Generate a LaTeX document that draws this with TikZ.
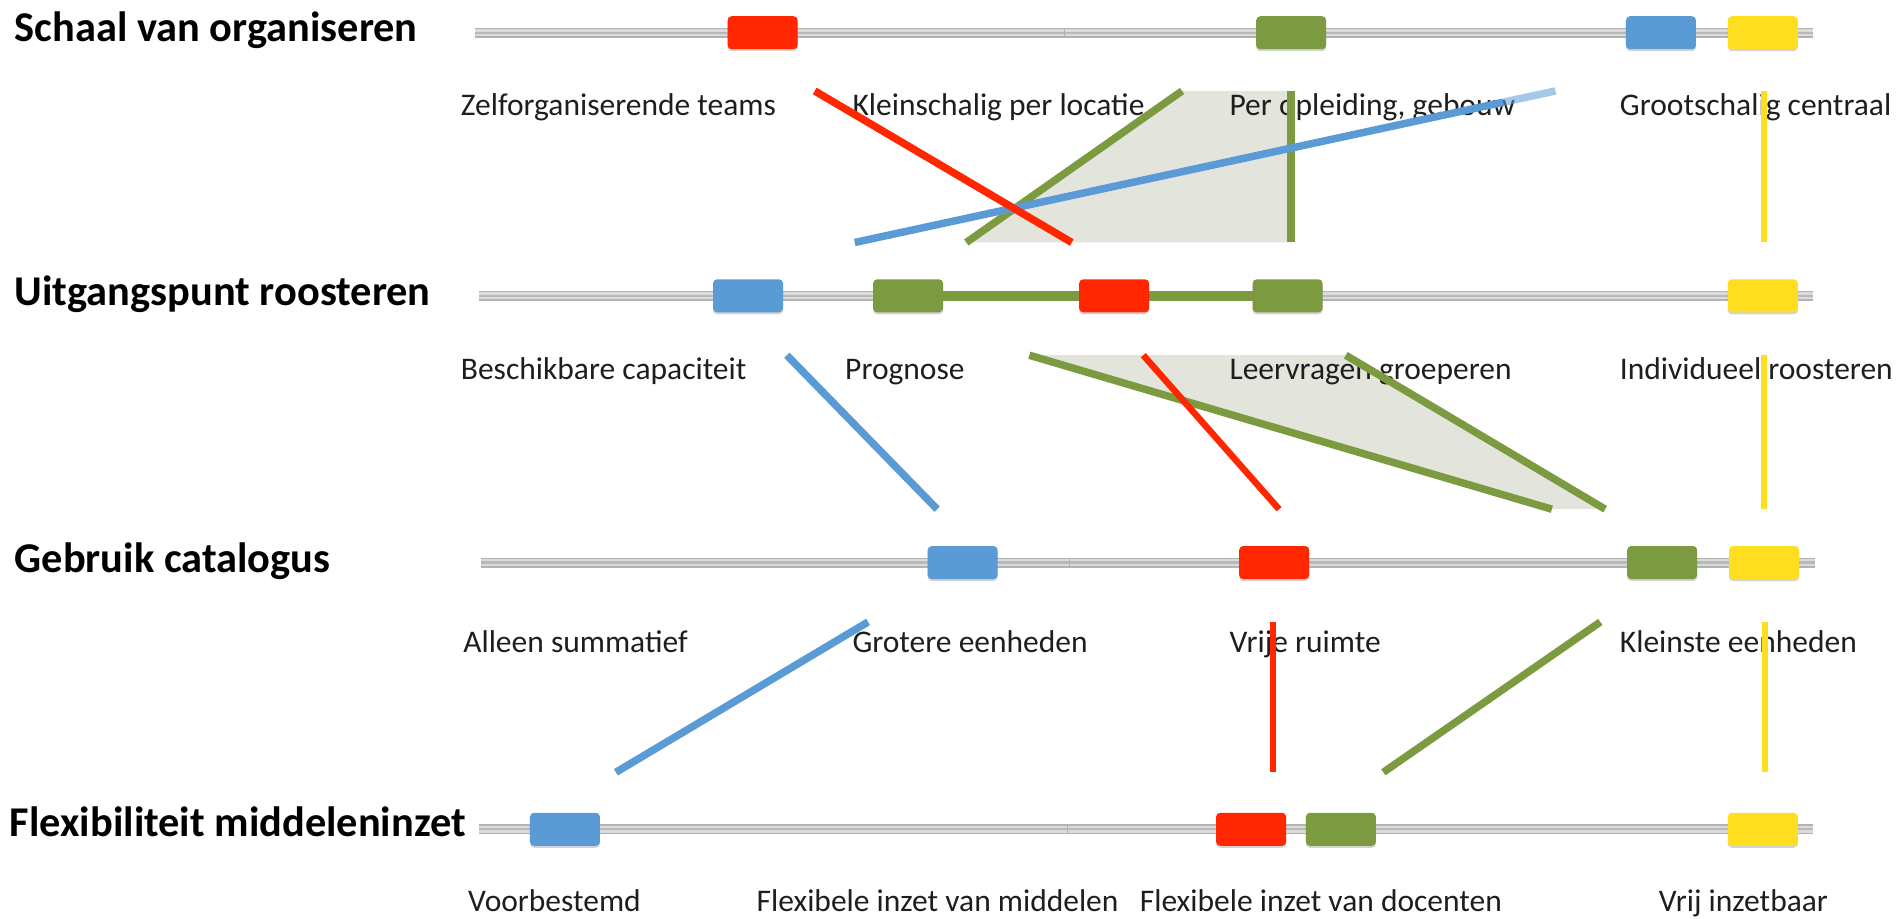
\documentclass[tikz,border=0pt]{standalone}
\usepackage{fontspec}
\setmainfont{Carlito}
\usetikzlibrary{shadows}
\definecolor{cred}{RGB}{255,38,0}
\definecolor{cgreen}{RGB}{124,155,65}
\definecolor{cblue}{RGB}{91,155,213}
\definecolor{cyellow}{RGB}{255,221,31}
\definecolor{cfill}{RGB}{227,229,220}
\definecolor{ctext}{RGB}{30,30,30}
\newcommand\labfont{\fontsize{31.5}{36}\selectfont}
\newcommand\titfont{\fontsize{42.4}{50}\selectfont\bfseries}
\begin{document}
\begin{tikzpicture}[x=1.2124pt,y=-1.2124pt,
  trackA/.style={line width=10pt,draw=gray!60},
  trackB/.style={line width=7pt,draw=gray!28},
  trackC/.style={line width=2.4pt,draw=gray!55},
  tick/.style={line width=0.6pt,draw=gray!60},
  box/.style={rectangle,rounded corners=4pt,minimum width=70pt,minimum height=33pt,inner sep=0pt,
     drop shadow={shadow xshift=0pt,shadow yshift=-2pt,opacity=0.35}},
  conn/.style={line width=7.5pt},
  thin/.style={line width=6.5pt},
  lab/.style={anchor=base west,inner sep=0pt,text=ctext,font=\labfont},
  tit/.style={anchor=base west,inner sep=0pt,text=black,font=\titfont}]
\useasboundingbox (0,0) rectangle (1568,758);

% ---------- titles ----------
\node[tit] (t1) at (12,34) {Schaal van organiseren};
\node[tit] (t2) at (12,252) {Uitgangspunt roosteren};
\node[tit] (t3) at (12,472) {Gebruik catalogus};
\node[tit] (t4) at (8,690) {Flexibiliteit middeleninzet};

% ---------- tracks ----------
\coordinate (a1) at (392,27); \coordinate (b1) at (1495,27);
\coordinate (a2) at (395,244); \coordinate (b2) at (1495,244);
\coordinate (a3) at (397,464); \coordinate (b3) at (1497,464);
\coordinate (a4) at (395,684); \coordinate (b4) at (1495,684);
\foreach \i in {1,2,3,4}{
  \draw[trackA] (a\i) -- (b\i);
  \draw[trackB] (a\i) -- (b\i);
  \draw[trackC] (a\i) -- (b\i);
}
\coordinate (m1a) at (878,23); \coordinate (m1b) at (878,31);
\coordinate (m3a) at (882,460); \coordinate (m3b) at (882,468);
\coordinate (m4a) at (880,680); \coordinate (m4b) at (880,688);
\draw[tick] (m1a) -- (m1b);
\draw[tick] (m3a) -- (m3b);
\draw[tick] (m4a) -- (m4b);

% ---------- row 2 green segment ----------
\coordinate (g2a) at (749,244); \coordinate (g2b) at (1062,244);
\draw[line width=10pt,cgreen] (g2a) -- (g2b);

% ---------- boxes ----------
\node[box,fill=cred]    (r1red)    at (629,27) {};
\node[box,fill=cgreen]  (r1green)  at (1065,27) {};
\node[box,fill=cblue]   (r1blue)   at (1370,27) {};
\node[box,fill=cyellow] (r1yellow) at (1454,27) {};

\node[box,fill=cblue]   (r2blue)   at (617,244) {};
\node[box,fill=cgreen]  (r2greenA) at (749,244) {};
\node[box,fill=cred]    (r2red)    at (919,244) {};
\node[box,fill=cgreen]  (r2greenB) at (1062,244) {};
\node[box,fill=cyellow] (r2yellow) at (1454,244) {};

\node[box,fill=cblue]   (r3blue)   at (794,464) {};
\node[box,fill=cred]    (r3red)    at (1051,464) {};
\node[box,fill=cgreen]  (r3green)  at (1371,464) {};
\node[box,fill=cyellow] (r3yellow) at (1455,464) {};

\node[box,fill=cblue]   (r4blue)   at (466,684) {};
\node[box,fill=cred]    (r4red)    at (1032,684) {};
\node[box,fill=cgreen]  (r4green)  at (1106,684) {};
\node[box,fill=cyellow] (r4yellow) at (1454,684) {};

% ---------- fills ----------
\coordinate (p1) at (797,200); \coordinate (p2) at (975,75);
\coordinate (p3) at (1065,75); \coordinate (p4) at (1065,200);
\fill[cfill] (p1) -- (p2) -- (p3) -- (p4) -- cycle;
\coordinate (q1) at (849,293); \coordinate (q2) at (1110,293);
\coordinate (q3) at (1324,420); \coordinate (q4) at (1280,420);
\fill[cfill] (q1) -- (q2) -- (q3) -- (q4) -- cycle;

% ---------- labels ----------
\node[lab] (l11) at (380,95) {Zelforganiserende teams};
\node[lab] (l12) at (703,95) {Kleinschalig per locatie};
\node[lab] (l13) at (1014,95) {Per opleiding, gebouw};
\node[lab] (l14) at (1336,95) {Grootschalig centraal};

\node[lab] (l21) at (380,313) {Beschikbare capaciteit};
\node[lab] (l22) at (697,313) {Prognose};
\node[lab] (l23) at (1014,313) {Leervragen groeperen};
\node[lab] (l24) at (1336,313) {Individueel roosteren};

\node[lab] (l31) at (382,538) {Alleen summatief};
\node[lab] (l32) at (703,538) {Grotere eenheden};
\node[lab] (l33) at (1014,538) {Vrije ruimte};
\node[lab] (l34) at (1336,538) {Kleinste eenheden};

\node[lab] (l41) at (386,752) {Voorbestemd};
\node[lab] (l42) at (624,752) {Flexibele inzet van middelen};
\node[lab] (l43) at (940,752) {Flexibele inzet van docenten};
\node[lab] (l44) at (1368,752) {Vrij inzetbaar};

% ---------- band 1 ----------
\draw[conn,cgreen] (p1) -- (p2);
\draw[conn,cgreen] (p3) -- (p4);
\coordinate (bl1a) at (705,200); \coordinate (bl1m) at (1240,84.3); \coordinate (bl1b) at (1283,75);
\draw[conn,cblue] (bl1a) -- (bl1m);
\draw[conn,cblue,opacity=0.55] (bl1m) -- (bl1b);
\coordinate (rd1a) at (672,75); \coordinate (rd1b) at (884,200);
\draw[conn,cred] (rd1a) -- (rd1b);
\coordinate (ye1a) at (1455,75); \coordinate (ye1b) at (1455,200);
\draw[thin,cyellow] (ye1a) -- (ye1b);

% ---------- band 2 ----------
\draw[conn,cgreen] (q1) -- (q4);
\draw[conn,cgreen] (q2) -- (q3);
\coordinate (bl2a) at (649,293); \coordinate (bl2b) at (773,420);
\draw[conn,cblue] (bl2a) -- (bl2b);
\coordinate (rd2a) at (943,293); \coordinate (rd2b) at (1055,420);
\draw[thin,cred] (rd2a) -- (rd2b);
\coordinate (ye2a) at (1455,293); \coordinate (ye2b) at (1455,420);
\draw[thin,cyellow] (ye2a) -- (ye2b);

% ---------- band 3 ----------
\coordinate (bl3a) at (508,637); \coordinate (bl3b) at (716,513);
\draw[conn,cblue] (bl3a) -- (bl3b);
\coordinate (rd3a) at (1050,513); \coordinate (rd3b) at (1050,637);
\draw[thin,cred] (rd3a) -- (rd3b);
\coordinate (gr3a) at (1141,637); \coordinate (gr3b) at (1320,513);
\draw[conn,cgreen] (gr3a) -- (gr3b);
\coordinate (ye3a) at (1456,513); \coordinate (ye3b) at (1456,637);
\draw[thin,cyellow] (ye3a) -- (ye3b);
\end{tikzpicture}
\end{document}
